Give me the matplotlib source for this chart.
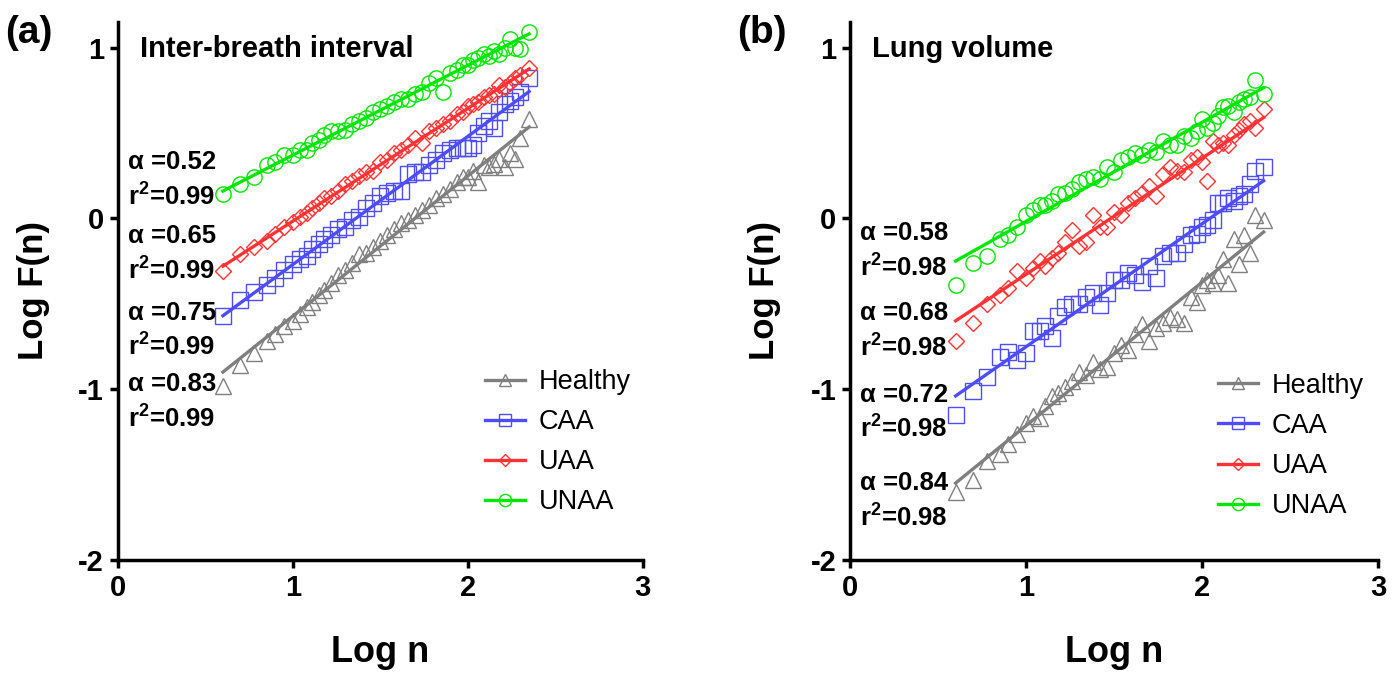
import numpy as np
import matplotlib
matplotlib.use("Agg")
import matplotlib.pyplot as plt
from matplotlib.lines import Line2D

plt.rcParams['font.family'] = ['Liberation Sans', 'DejaVu Sans']
plt.rcParams['mathtext.fontset'] = 'custom'
plt.rcParams['mathtext.rm'] = 'Liberation Sans'
plt.rcParams['mathtext.bf'] = 'Liberation Sans:bold'

# =============================================================================
# Data
# =============================================================================

groups = ['Healthy', 'CAA', 'UAA', 'UNAA']
colors = ['#7f7f7f', '#4d4dff', '#ff3333', '#00e600']
markers = ['^', 's', 'D', 'o']
marker_sizes = [11, 11, 8, 11]

log_n = [0.60, 0.70, 0.78, 0.85, 0.90, 0.95, 1.00, 1.04, 1.08, 1.11,
         1.15, 1.18, 1.22, 1.26, 1.30, 1.34, 1.38, 1.42, 1.46, 1.50,
         1.54, 1.58, 1.62, 1.66, 1.70, 1.74, 1.78, 1.82, 1.86, 1.90,
         1.94, 1.97, 2.00, 2.03, 2.06, 2.09, 2.12, 2.15, 2.18, 2.21,
         2.24, 2.27, 2.30, 2.35]

# (a) inter-breath interval, Log F(n)
ibi_healthy = [-0.98, -0.86, -0.79, -0.72, -0.68, -0.63, -0.60, -0.56, -0.52, -0.49,
               -0.45, -0.42, -0.38, -0.33, -0.30, -0.26, -0.21, -0.20, -0.17, -0.13,
               -0.10, -0.06, -0.03, -0.01, 0.02, 0.05, 0.08, 0.12, 0.14, 0.17,
               0.21, 0.24, 0.24, 0.28, 0.21, 0.31, 0.30, 0.32, 0.35, 0.30,
               0.38, 0.35, 0.47, 0.58]
ibi_caa = [-0.57, -0.48, -0.43, -0.39, -0.35, -0.30, -0.27, -0.24, -0.22, -0.18,
           -0.15, -0.12, -0.10, -0.06, -0.05, -0.01, 0.01, 0.06, 0.09, 0.13,
           0.15, 0.16, 0.16, 0.26, 0.27, 0.27, 0.31, 0.34, 0.38, 0.40,
           0.41, 0.41, 0.41, 0.43, 0.50, 0.54, 0.57, 0.53, 0.62, 0.67,
           0.69, 0.71, 0.74, 0.82]
ibi_uaa = [-0.31, -0.21, -0.17, -0.13, -0.09, -0.05, -0.02, 0.01, 0.03, 0.06,
           0.09, 0.12, 0.13, 0.16, 0.20, 0.22, 0.25, 0.27, 0.28, 0.33,
           0.34, 0.38, 0.40, 0.43, 0.47, 0.44, 0.51, 0.53, 0.55, 0.57,
           0.61, 0.62, 0.66, 0.67, 0.68, 0.71, 0.72, 0.73, 0.78, 0.77,
           0.79, 0.82, 0.84, 0.88]
ibi_unaa = [0.14, 0.20, 0.24, 0.31, 0.33, 0.37, 0.37, 0.40, 0.40, 0.44,
            0.46, 0.49, 0.51, 0.51, 0.52, 0.55, 0.57, 0.59, 0.62, 0.64,
            0.66, 0.68, 0.70, 0.70, 0.73, 0.74, 0.79, 0.82, 0.74, 0.85,
            0.87, 0.90, 0.90, 0.93, 0.94, 0.96, 0.95, 0.98, 0.96, 1.00,
            1.05, 1.00, 0.99, 1.09]

# (b) lung volume, Log F(n)
lv_healthy = [-1.60, -1.53, -1.42, -1.38, -1.32, -1.26, -1.20, -1.16, -1.17, -1.10,
              -1.04, -1.02, -0.99, -0.95, -0.90, -0.92, -0.84, -0.88, -0.87, -0.79,
              -0.74, -0.77, -0.68, -0.62, -0.72, -0.64, -0.61, -0.58, -0.59, -0.61,
              -0.46, -0.49, -0.39, -0.36, -0.38, -0.33, -0.24, -0.38, -0.12, -0.27,
              -0.10, -0.20, 0.02, -0.01]
lv_caa = [-1.15, -1.01, -0.93, -0.81, -0.78, -0.83, -0.79, -0.66, -0.66, -0.63,
          -0.70, -0.57, -0.52, -0.50, -0.50, -0.46, -0.44, -0.51, -0.44, -0.36,
          -0.36, -0.32, -0.33, -0.37, -0.28, -0.35, -0.22, -0.20, -0.20, -0.15,
          -0.10, -0.09, -0.05, -0.04, -0.01, 0.09, 0.09, 0.12, 0.10, 0.13,
          0.14, 0.20, 0.28, 0.30]
lv_uaa = [-0.72, -0.61, -0.50, -0.45, -0.41, -0.31, -0.35, -0.29, -0.25, -0.28,
          -0.23, -0.20, -0.14, -0.07, -0.16, -0.14, 0.02, -0.05, -0.05, 0.04,
          0.02, 0.09, 0.12, 0.15, 0.19, 0.13, 0.26, 0.30, 0.28, 0.27,
          0.34, 0.36, 0.33, 0.22, 0.45, 0.43, 0.44, 0.43, 0.49, 0.52,
          0.55, 0.57, 0.53, 0.64]
lv_unaa = [-0.39, -0.26, -0.22, -0.12, -0.10, -0.05, 0.02, 0.05, 0.08, 0.08,
           0.10, 0.14, 0.15, 0.17, 0.21, 0.23, 0.24, 0.23, 0.30, 0.27,
           0.34, 0.36, 0.38, 0.37, 0.40, 0.39, 0.45, 0.43, 0.43, 0.48,
           0.47, 0.51, 0.58, 0.53, 0.56, 0.60, 0.65, 0.66, 0.62, 0.68,
           0.70, 0.71, 0.81, 0.73]

# fitted lines: value at the first point and slope, per group
fit_start_a = [-0.90, -0.57, -0.28, 0.16]
fit_slope_a = [0.82, 0.75, 0.66, 0.526]
fit_start_b = [-1.55, -1.04, -0.60, -0.25]
fit_slope_b = [0.84, 0.72, 0.68, 0.58]

alpha_a = ['0.83', '0.75', '0.65', '0.52']
r2_a = ['0.99', '0.99', '0.99', '0.99']
alpha_b = ['0.84', '0.72', '0.68', '0.58']
r2_b = ['0.98', '0.98', '0.98', '0.98']

# =============================================================================
# Figure
# =============================================================================

fig = plt.figure(figsize=(13.96, 6.73), dpi=100)
ax_a = fig.add_axes([0.0845, 0.168, 0.376, 0.7994])
ax_b = fig.add_axes([0.6089, 0.168, 0.3782, 0.7994])


def draw_panel(ax, series, starts, slopes, alphas, r2s, title,
               alpha_y, r2_y, legend_anchor):
    x = np.array(log_n)
    for ys, c, m, ms, y0, k in zip(series, colors, markers, marker_sizes,
                                   starts, slopes):
        ax.plot(x, ys, linestyle='none', marker=m, ms=ms, mfc='none',
                mec=c, mew=1.0, zorder=2)
        xl = np.array([x[0], x[-1]])
        ax.plot(xl, y0 + k * (xl - x[0]), color=c, lw=2.4, zorder=3)

    for a, r, ya, yr in zip(alphas, r2s, alpha_y, r2_y):
        ax.text(0.057, ya, '\u03b1 =' + a, fontsize=18.5, fontweight='bold',
                va='center', ha='left')
        ax.text(0.057, yr, r'r$^{\mathbf{2}}$=' + r, fontsize=18.5,
                fontweight='bold', va='center', ha='left')

    ax.text(0.125, 0.99, title, fontsize=21, fontweight='bold',
            va='center', ha='left')

    ax.set_xlim(0, 3)
    ax.set_ylim(-2, 1.15)
    ax.set_xticks([0, 1, 2, 3])
    ax.set_yticks([-2, -1, 0, 1])
    ax.set_xticklabels(['0', '1', '2', '3'])
    ax.set_yticklabels(['-2', '-1', '0', '1'])
    for side in ('top', 'right'):
        ax.spines[side].set_visible(False)
    for side in ('left', 'bottom'):
        ax.spines[side].set_linewidth(2.5)
    ax.tick_params(direction='out', length=6, width=2.5, labelsize=21, pad=4)
    for lab in ax.get_xticklabels() + ax.get_yticklabels():
        lab.set_fontweight('bold')

    ax.set_xlabel('Log n', fontsize=26, fontweight='bold')
    ax.set_ylabel('Log F(n)', fontsize=25, fontweight='bold')
    ax.xaxis.set_label_coords(0.5, -0.14)
    ax.yaxis.set_label_coords(-0.13, 0.5)

    handles = [Line2D([], [], color=c, lw=2.4, marker=m, ms=ms * 0.8,
                      mfc='none', mec=c, mew=1.0)
               for c, m, ms in zip(colors, markers, marker_sizes)]
    ax.legend(handles, groups, loc='upper left', bbox_to_anchor=legend_anchor,
              frameon=False, fontsize=19.5, handlelength=1.5,
              handletextpad=0.5, labelspacing=0.52, numpoints=1)


draw_panel(ax_a, [ibi_healthy, ibi_caa, ibi_uaa, ibi_unaa],
           fit_start_a, fit_slope_a, alpha_a, r2_a, 'Inter-breath interval',
           [-0.971, -0.554, -0.105, 0.33], [-1.164, -0.743, -0.30, 0.135],
           (0.652, 0.400))
draw_panel(ax_b, [lv_healthy, lv_caa, lv_uaa, lv_unaa],
           fit_start_b, fit_slope_b, alpha_b, r2_b, 'Lung volume',
           [-1.55, -1.035, -0.556, -0.088], [-1.747, -1.228, -0.753, -0.285],
           (0.65, 0.393))

fig.text(0.004, 0.978, '(a)', fontsize=28, fontweight='bold', va='top')
fig.text(0.528, 0.978, '(b)', fontsize=28, fontweight='bold', va='top')

fig.savefig('out.png', dpi=100)
